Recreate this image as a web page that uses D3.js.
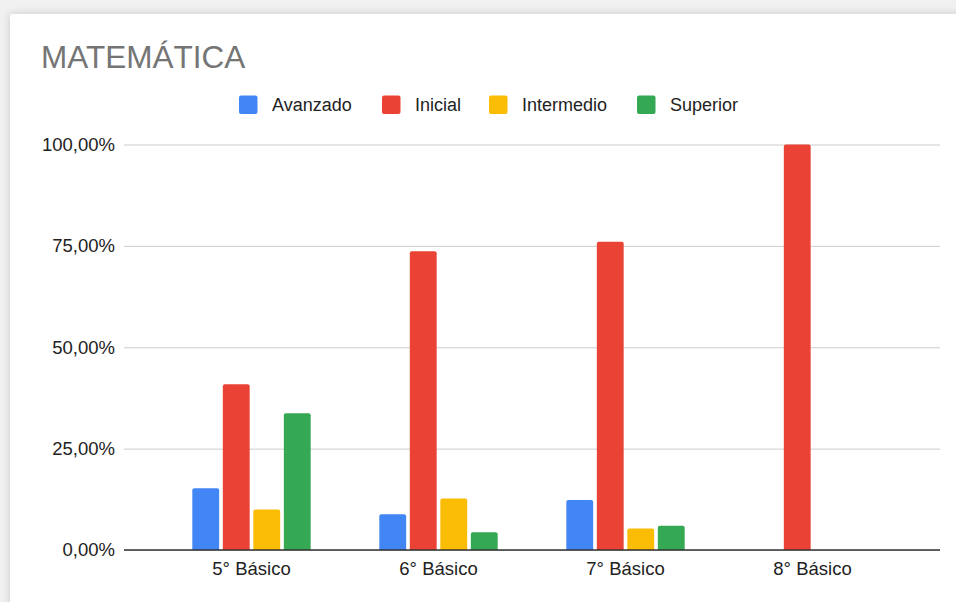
<!DOCTYPE html>
<html>
<head>
<meta charset="utf-8">
<script src="https://cdn.jsdelivr.net/npm/d3@7"></script>
<style>
  html, body { margin: 0; padding: 0; background: #f1f1f1; }
  svg { display: block; font-family: Arial, "Liberation Sans", sans-serif; }
</style>
</head>
<body>
<svg id="chart" width="956" height="602"></svg>
<script>
const title = "MATEMÁTICA";
const categories = ["5° Básico", "6° Básico", "7° Básico", "8° Básico"];
const seriesNames = ["Avanzado", "Inicial", "Intermedio", "Superior"];
const seriesColors = ["#4285F4", "#EA4335", "#FBBC04", "#34A853"];
const avanzado   = [15.2, 8.8, 12.3, 0];
const inicial    = [40.9, 73.7, 76.0, 100];
const intermedio = [10.0, 12.7, 5.3, 0];
const superior   = [33.7, 4.4, 6.0, 0];
const yTicks = [0, 25, 50, 75, 100];

const seriesValues = [avanzado, inicial, intermedio, superior];
const rows = categories.map((c, i) => ({
  cat: c,
  vals: seriesNames.map((s, j) => ({ name: s, value: seriesValues[j][i], color: seriesColors[j] }))
}));

const svg = d3.select("#chart");

// card background with soft shadow
const defs = svg.append("defs");
const f = defs.append("filter").attr("id", "sh").attr("x", "-5%").attr("y", "-5%").attr("width", "110%").attr("height", "110%");
f.append("feGaussianBlur").attr("in", "SourceAlpha").attr("stdDeviation", 4);
f.append("feOffset").attr("dx", 0).attr("dy", 0).attr("result", "b");
f.append("feComponentTransfer").append("feFuncA").attr("type", "linear").attr("slope", 0.18);
const m = f.append("feMerge");
m.append("feMergeNode");
m.append("feMergeNode").attr("in", "SourceGraphic");
svg.append("rect").attr("x", 10).attr("y", 14).attr("width", 960).attr("height", 600)
  .attr("rx", 3).attr("fill", "#fff").attr("filter", "url(#sh)");

const plotLeft = 124, plotRight = 940, plotTop = 144.5, plotBottom = 550;

const y = d3.scaleLinear().domain([0, 100]).range([plotBottom, plotTop]);
const x = d3.scaleBand().domain(categories).range([158, 906]).paddingInner(0.367).paddingOuter(0.1835);
const xs = d3.scaleBand().domain(seriesNames).range([0, x.bandwidth()]).paddingInner(0.12);

// title
svg.append("text").attr("x", 41).attr("y", 68).attr("font-size", 31.5).attr("fill", "#757575").text(title);

// legend
const legendX = [239, 382, 489, 637];
const lg = svg.append("g");
seriesNames.forEach((s, i) => {
  lg.append("rect").attr("x", legendX[i]).attr("y", 95.5).attr("width", 18.5).attr("height", 18.5)
    .attr("rx", 2).attr("fill", seriesColors[i]);
  lg.append("text").attr("x", legendX[i] + 33).attr("y", 111).attr("font-size", 18).attr("fill", "#222").text(s);
});

// gridlines and y labels
const yAxis = d3.axisLeft(y).tickValues(yTicks)
  .tickFormat(d => d3.format(".2f")(d).replace(".", ",") + "%")
  .tickSize(-(plotRight - plotLeft)).tickPadding(9);
const ga = svg.append("g").attr("transform", `translate(${plotLeft},0)`).call(yAxis);
ga.select(".domain").remove();
ga.selectAll(".tick line").attr("stroke", "#cccccc").attr("stroke-width", 1);
ga.selectAll(".tick text").attr("font-size", 18.5).attr("fill", "#222").attr("font-family", "Arial, 'Liberation Sans', sans-serif");

// bars
const gg = svg.append("g").selectAll("g").data(rows).join("g")
  .attr("transform", d => `translate(${x(d.cat)},0)`);
gg.selectAll("path").data(d => d.vals.filter(v => v.value > 0)).join("path")
  .attr("fill", d => d.color)
  .attr("d", d => {
    const x0 = xs(d.name), w = xs.bandwidth(), y0 = y(d.value), y1 = y(0), r = 2;
    return `M${x0},${y1}V${y0 + r}Q${x0},${y0} ${x0 + r},${y0}H${x0 + w - r}Q${x0 + w},${y0} ${x0 + w},${y0 + r}V${y1}Z`;
  });

// baseline
svg.append("line").attr("x1", plotLeft).attr("x2", plotRight).attr("y1", y(0)).attr("y2", y(0))
  .attr("stroke", "#333").attr("stroke-width", 1.5);

// x labels
const xAxis = d3.axisBottom(x).tickSize(0).tickPadding(12);
const gx = svg.append("g").attr("transform", `translate(0,${plotBottom})`).call(xAxis);
gx.select(".domain").remove();
gx.selectAll(".tick text").attr("font-size", 18.5).attr("fill", "#222").attr("font-family", "Arial, 'Liberation Sans', sans-serif");
</script>
</body>
</html>
